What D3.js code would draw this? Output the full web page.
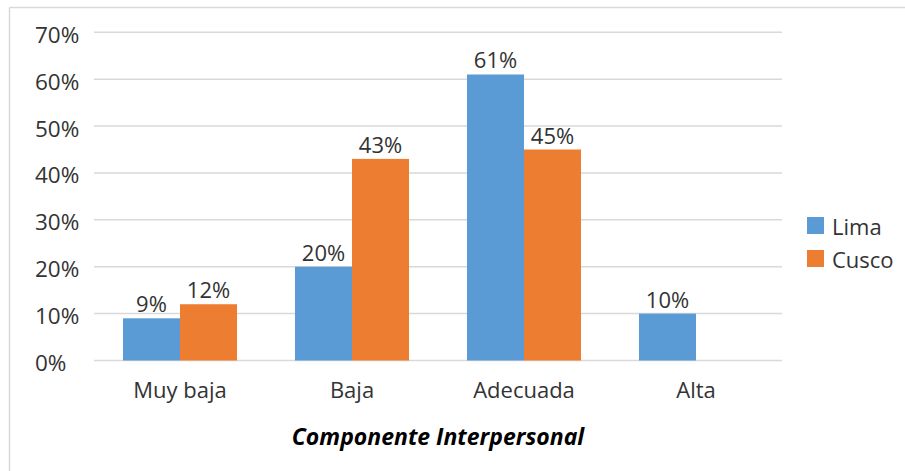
<!DOCTYPE html>
<html>
<head>
<meta charset="utf-8">
<script src="https://cdn.jsdelivr.net/npm/d3@7"></script>
<style>
  html, body { margin: 0; padding: 0; background: #fff; }
  svg { display: block; font-family: "Open Sans", "Noto Sans", sans-serif; }
</style>
</head>
<body>
<svg id="chart" width="905" height="471"></svg>
<script>
// Nivel del componente interpersonal por ciudad (proporciones)
const categories = ["Muy baja", "Baja", "Adecuada", "Alta"];
const seriesNames = ["Lima", "Cusco"];
const lima  = [0.09, 0.20, 0.61, 0.10];
const cusco = [0.12, 0.43, 0.45, null];
const yTicks = [0, 0.1, 0.2, 0.3, 0.4, 0.5, 0.6, 0.7];
const xTitle = "Componente Interpersonal";

const colors = { Lima: "#5B9BD5", Cusco: "#ED7D31" };
const values = { Lima: lima, Cusco: cusco };
const textColor = "#333333";

const svg = d3.select("#chart");

// outer frame (top and left edges)
svg.append("line").attr("x1", 9.5).attr("x2", 905).attr("y1", 7.5).attr("y2", 7.5)
  .attr("stroke", "#D9D9D9").attr("stroke-width", 1.5);
svg.append("line").attr("x1", 9.5).attr("x2", 9.5).attr("y1", 7.5).attr("y2", 471)
  .attr("stroke", "#D9D9D9").attr("stroke-width", 1.5);

const plot = { left: 94, right: 782, top: 32.3, bottom: 360.5 };

const x = d3.scaleBand().domain(categories)
  .range([plot.left, plot.right])
  .paddingInner(0.337).paddingOuter(0.337 / 2);
const xs = d3.scaleBand().domain(seriesNames).range([0, x.bandwidth()]);
const y = d3.scaleLinear().domain([0, 0.7]).range([plot.bottom, plot.top]);

// gridlines
svg.append("g").selectAll("line").data(yTicks).join("line")
  .attr("x1", plot.left).attr("x2", plot.right)
  .attr("y1", d => y(d)).attr("y2", d => y(d))
  .attr("stroke", "#D9D9D9").attr("stroke-width", 1.5);

// y tick labels
const pct = d3.format(".0%");
svg.append("g").selectAll("text").data(yTicks).join("text")
  .attr("x", 35).attr("y", d => y(d) + 2)
  .attr("dominant-baseline", "central")
  .attr("font-size", 22.5).attr("fill", textColor)
  .text(d => pct(d));

// bars
const groups = svg.append("g").selectAll("g").data(categories).join("g")
  .attr("transform", c => `translate(${x(c)},0)`);

seriesNames.forEach(s => {
  groups.filter((c, i) => values[s][i] != null)
    .append("rect")
    .attr("x", xs(s))
    .attr("width", xs.bandwidth())
    .attr("y", c => y(values[s][categories.indexOf(c)]))
    .attr("height", c => plot.bottom - y(values[s][categories.indexOf(c)]))
    .attr("fill", colors[s]);
  groups.filter((c, i) => values[s][i] != null)
    .append("text")
    .attr("x", xs(s) + xs.bandwidth() / 2)
    .attr("y", c => y(values[s][categories.indexOf(c)]) - 6)
    .attr("text-anchor", "middle")
    .attr("font-size", 22).attr("fill", textColor)
    .text(c => pct(values[s][categories.indexOf(c)]));
});

// category labels
svg.append("g").selectAll("text").data(categories).join("text")
  .attr("x", c => x(c) + x.bandwidth() / 2)
  .attr("y", 398)
  .attr("text-anchor", "middle")
  .attr("font-size", 22).attr("fill", textColor)
  .text(c => c);

// axis title
svg.append("text")
  .attr("x", (plot.left + plot.right) / 2)
  .attr("y", 445)
  .attr("text-anchor", "middle")
  .attr("font-size", 23).attr("font-weight", "bold").attr("font-style", "italic")
  .attr("fill", "#000")
  .text(xTitle);

// legend
const legend = svg.append("g").selectAll("g").data(seriesNames).join("g")
  .attr("transform", (s, i) => `translate(807,${217 + i * 33})`);
legend.append("rect").attr("width", 17).attr("height", 17).attr("fill", s => colors[s]);
legend.append("text").attr("x", 25).attr("y", 9)
  .attr("dominant-baseline", "central")
  .attr("font-size", 22).attr("fill", textColor)
  .text(s => s);
</script>
</body>
</html>
